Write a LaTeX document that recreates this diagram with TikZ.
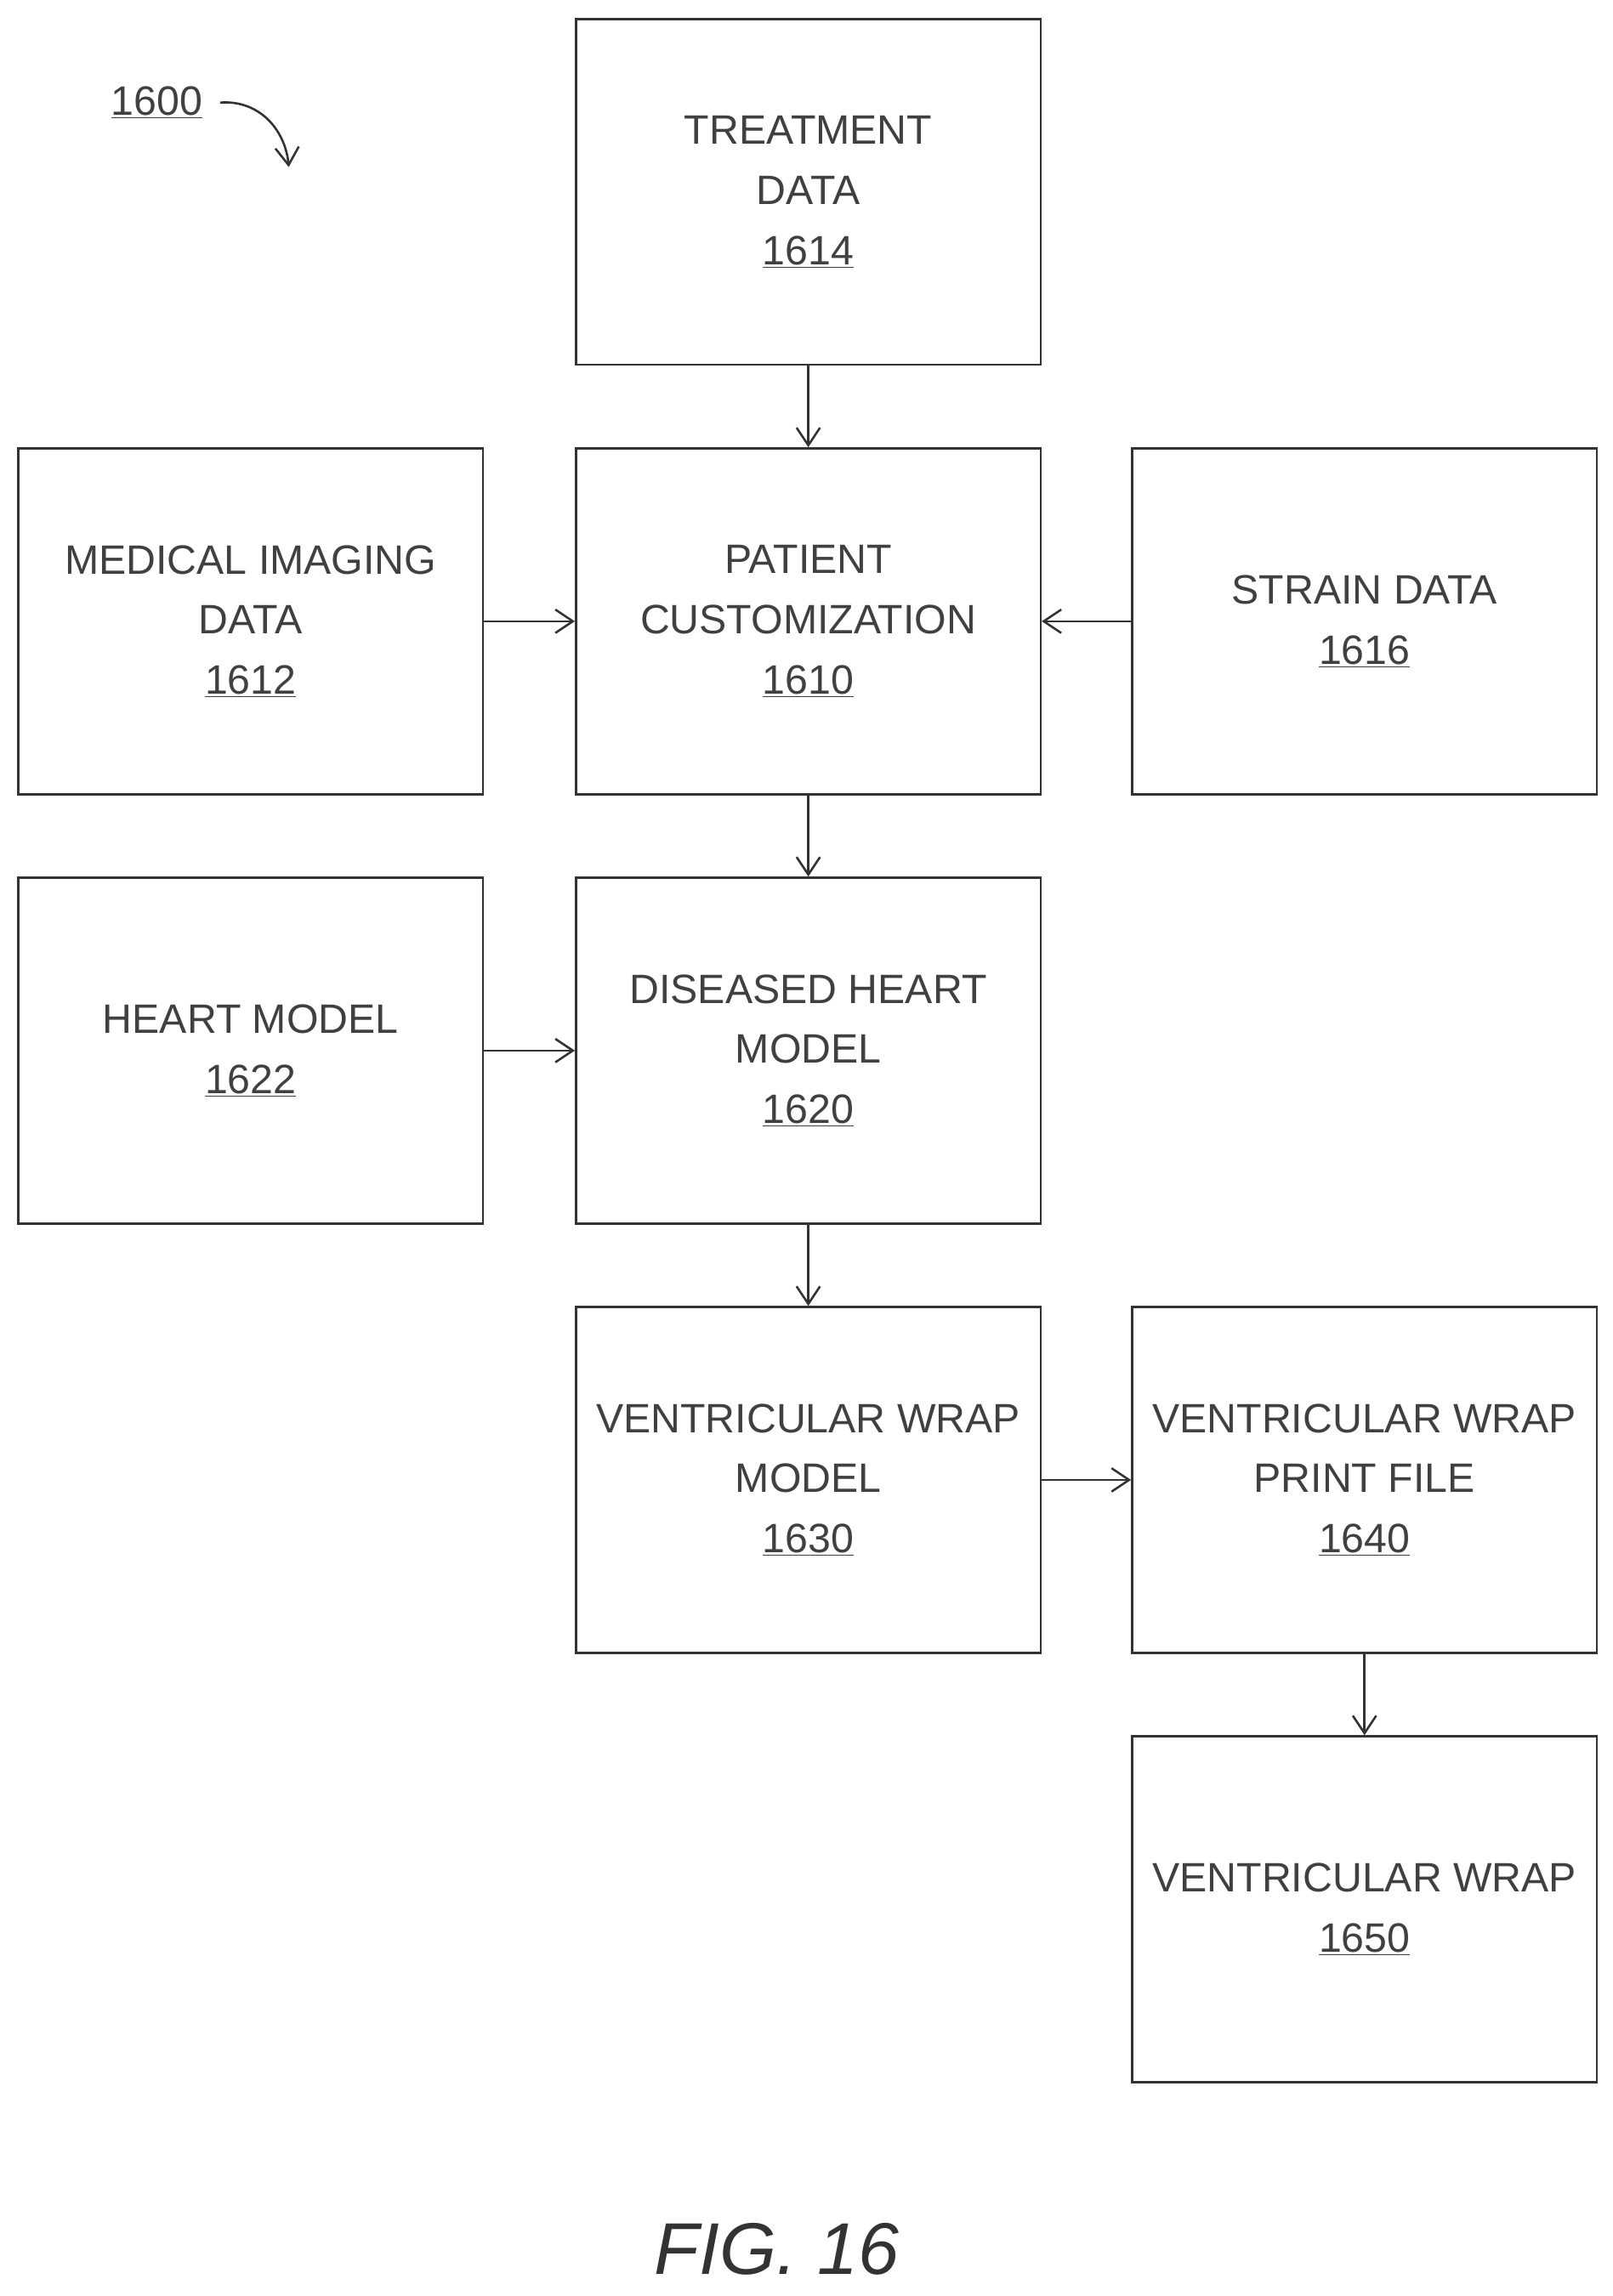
\documentclass[tikz,border=0pt]{standalone}
\usepackage{fontspec}
\setmainfont{Liberation Sans}
\usetikzlibrary{arrows.meta,positioning}
\tikzset{every picture/.style={line width=1.5pt},
  blk/.style={draw=black!80,rectangle,minimum width=317pt,minimum height=236pt,align=center,inner sep=0pt,text=black!75,font=\fontsize{28}{41}\selectfont},
  arr/.style={-{Straight Barb[length=12pt,width=16pt]},draw=black!80}}
\newcommand{\rf}[1]{\underline{#1}}
\begin{document}
\begin{tikzpicture}[x=1pt,y=1pt,yscale=-1]
\useasboundingbox (0,0) rectangle (1100,1567);
% blocks
\node[blk] (treat) at (551.5,131) {TREATMENT\\DATA\\\rf{1614}};
\node[blk] (cust) at (551.5,424) {PATIENT\\CUSTOMIZATION\\\rf{1610}};
\node[blk] (img) at (171,424) {MEDICAL IMAGING\\DATA\\\rf{1612}};
\node[blk] (strain) at (931,424) {STRAIN DATA\\\rf{1616}};
\node[blk] (heart) at (171,717) {HEART MODEL\\\rf{1622}};
\node[blk] (dis) at (551.5,717) {DISEASED HEART\\MODEL\\\rf{1620}};
\node[blk] (wrapm) at (551.5,1010) {VENTRICULAR WRAP\\MODEL\\\rf{1630}};
\node[blk] (print) at (931,1010) {VENTRICULAR WRAP\\PRINT FILE\\\rf{1640}};
\node[blk] (wrap) at (931,1303) {VENTRICULAR WRAP\\\rf{1650}};
% connectors
\draw[arr] (treat) -- (cust);
\draw[arr] (img) -- (cust);
\draw[arr] (strain) -- (cust);
\draw[arr] (cust) -- (dis);
\draw[arr] (heart) -- (dis);
\draw[arr] (dis) -- (wrapm);
\draw[arr] (wrapm) -- (print);
\draw[arr] (print) -- (wrap);
% labels
\node[text=black!75,font=\fontsize{28}{34}\selectfont] (fignum) at (107,70) {\rf{1600}};
\coordinate (figtip) at (197,114);
\draw[arr] ([xshift=8pt]fignum.east) .. controls (178,68) and (195,90) .. (figtip);
\node[text=black!80,font=\fontsize{50}{60}\selectfont\itshape] (cap) at (530,1535) {FIG. 16};
\end{tikzpicture}
\end{document}
